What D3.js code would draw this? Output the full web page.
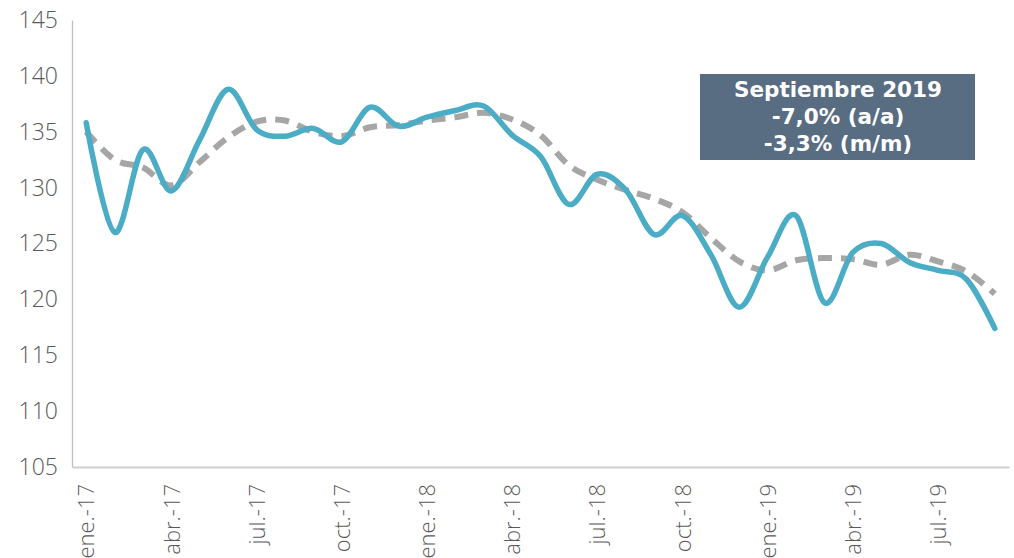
<!DOCTYPE html>
<html>
<head>
<meta charset="utf-8">
<script src="https://cdn.jsdelivr.net/npm/d3@7/dist/d3.min.js"></script>
<style>
  html, body { margin: 0; padding: 0; background: #fff; }
  svg { display: block; }
</style>
</head>
<body>
<svg id="chart" width="1014" height="558"></svg>
<script>
(function(){

  // DATA ////////////////////////////////////////////////////////////////////

  var months = ["ene.-17","feb.-17","mar.-17","abr.-17","may.-17","jun.-17","jul.-17","ago.-17","sep.-17","oct.-17","nov.-17","dic.-17",
                "ene.-18","feb.-18","mar.-18","abr.-18","may.-18","jun.-18","jul.-18","ago.-18","sep.-18","oct.-18","nov.-18","dic.-18",
                "ene.-19","feb.-19","mar.-19","abr.-19","may.-19","jun.-19","jul.-19","ago.-19","sep.-19"];

  // monthly index (blue)
  var indexValues = [135.8,126.0,133.4,129.7,134.3,138.8,135.2,134.6,135.3,134.1,137.2,135.5,
                     136.3,136.9,137.3,134.7,132.8,128.5,131.2,129.8,125.8,127.5,124.0,119.3,
                     123.8,127.5,119.7,124.2,125.0,123.3,122.6,121.8,117.4];

  // trend (grey dashed)
  var trendValues = [135.0,132.5,131.8,130.2,132.3,134.5,135.9,136.0,135.0,134.6,135.4,135.6,
                     136.0,136.3,136.7,136.1,134.7,132.0,130.7,129.8,129.0,127.8,125.5,123.4,
                     122.6,123.5,123.7,123.6,123.1,124.0,123.4,122.5,120.5];

  var yTicks = [105,110,115,120,125,130,135,140,145];
  var xTickLabels = ["ene.-17","abr.-17","jul.-17","oct.-17","ene.-18","abr.-18","jul.-18","oct.-18","ene.-19","abr.-19","jul.-19"];

  var boxLines = ["Septiembre 2019","-7,0% (a/a)","-3,3% (m/m)"];

  // LAYOUT //////////////////////////////////////////////////////////////////

  var left = 72, right = 1009, top = 20, bottom = 467;
  var font = "'Open Sans', Lato, sans-serif";
  var boxFont = "'DejaVu Sans', 'Open Sans', sans-serif";

  var svg = d3.select("#chart");

  var x = d3.scalePoint().domain(months).range([left, right]).padding(0.5);
  var y = d3.scaleLinear().domain([105, 145]).range([bottom, top]);

  // AXES ////////////////////////////////////////////////////////////////////

  var yAxis = svg.append("g")
    .attr("transform", "translate(" + left + ",0)")
    .call(d3.axisLeft(y).tickValues(yTicks).tickSize(0).tickPadding(14));
  yAxis.select(".domain").attr("stroke", "#bfbfbf").attr("stroke-width", 1.3);
  yAxis.selectAll("text")
    .attr("fill", "#595959")
    .style("font-family", font)
    .style("font-weight", 300)
    .style("font-size", "23px");

  var xAxis = svg.append("g")
    .attr("transform", "translate(0," + bottom + ")")
    .call(d3.axisBottom(x).tickValues(xTickLabels).tickSize(0).tickSizeOuter(0));
  xAxis.select(".domain").attr("stroke", "#d0d0d0").attr("stroke-width", 2);
  xAxis.selectAll("text")
    .attr("fill", "#595959")
    .style("font-family", font)
    .style("font-weight", 300)
    .style("font-size", "22px")
    .attr("text-anchor", "end")
    .attr("transform", "rotate(-90)")
    .attr("x", -17)
    .attr("y", 0)
    .attr("dy", "0.35em");

  // LINES ///////////////////////////////////////////////////////////////////

  var line = d3.line()
    .x(function(d, i){ return x(months[i]); })
    .y(function(d){ return y(d); })
    .curve(d3.curveCardinal.tension(0));

  svg.append("path")
    .datum(trendValues)
    .attr("d", line)
    .attr("fill", "none")
    .attr("stroke", "#a6a6a6")
    .attr("stroke-width", 6)
    .attr("stroke-dasharray", "14 9");

  svg.append("path")
    .datum(indexValues)
    .attr("d", line)
    .attr("fill", "none")
    .attr("stroke", "#4bacc6")
    .attr("stroke-width", 5.5)
    .attr("stroke-linecap", "round")
    .attr("stroke-linejoin", "round");

  // ANNOTATION BOX //////////////////////////////////////////////////////////

  var box = svg.append("g");
  box.append("rect")
    .attr("x", 700).attr("y", 74)
    .attr("width", 275).attr("height", 86)
    .attr("fill", "#596d82");

  box.selectAll("text")
    .data(boxLines)
    .enter()
    .append("text")
    .attr("x", 838)
    .attr("y", function(d, i){ return 97 + i * 27; })
    .attr("text-anchor", "middle")
    .attr("fill", "#ffffff")
    .style("font-family", boxFont)
    .style("font-weight", 700)
    .style("font-size", "21.5px")
    .text(function(d){ return d; });

})();
</script>
</body>
</html>
